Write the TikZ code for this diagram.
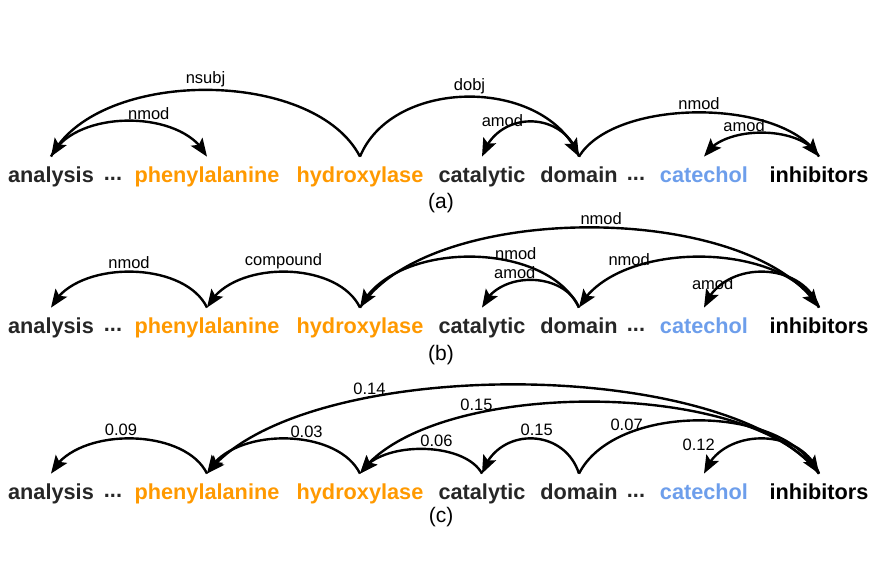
\documentclass[tikz,border=0pt]{standalone}
\usepackage{fontspec}
\setmainfont{Liberation Sans}
\usetikzlibrary{arrows.meta,bending}
\definecolor{wordGray}{RGB}{38,38,38}
\definecolor{wordOrange}{RGB}{255,153,0}
\definecolor{wordBlue}{RGB}{109,158,235}

\tikzset{
  word/.style={anchor=base, font=\bfseries\fontsize{10.85}{13}\selectfont,
    text height=9pt, text depth=2.5pt, inner xsep=0pt, inner ysep=3.5pt},
  dep/.style={line width=1.2pt, -{Stealth[length=9pt,width=7pt,inset=1.8pt]}},
  lbl/.style={font=\fontsize{8.25}{10}\selectfont, anchor=south, inner sep=0.8pt},
  panelcap/.style={font=\fontsize{10.5}{12}\selectfont}
}

\begin{document}
\begin{tikzpicture}[x=0.5pt, y=-0.5pt]
  \useasboundingbox (0,0) rectangle (880,563);

  % the same sentence in every panel
  \foreach \p/\yb in {a/182, b/333, c/499} {
    \node[word, text=wordGray]   (ana-\p)  at (51,\yb)  {analysis};
    \node[word, text=wordGray]   (dl-\p)   at (113,\yb) {\raisebox{1pt}{...}};
    \node[word, text=wordOrange] (phe-\p)  at (207,\yb) {phenylalanine};
    \node[word, text=wordOrange] (hyd-\p)  at (360,\yb) {hydroxylase};
    \node[word, text=wordGray]   (cat-\p)  at (482,\yb) {catalytic};
    \node[word, text=wordGray]   (dom-\p)  at (579,\yb) {domain};
    \node[word, text=wordGray]   (dr-\p)   at (636,\yb) {\raisebox{1pt}{...}};
    \node[word, text=wordBlue]   (cate-\p) at (704,\yb) {catechol};
    \node[word, text=black]      (inh-\p)  at (819,\yb) {inhibitors};
  }

  \node[panelcap] (cap-a) at (441,203) {(a)};
  \node[panelcap] (cap-b) at (441,355) {(b)};
  \node[panelcap] (cap-c) at (441,517) {(c)};

  % (a) dependency parse
  \draw[dep] (hyd-a.north) .. controls +(-46,-89) and +(46,-89) .. (ana-a.north) node[lbl, pos=0.5] {nsubj};
  \draw[dep] (ana-a.north) .. controls +(23,-48) and +(-23,-48) .. (phe-a.north) node[lbl, pos=0.6] {nmod};
  \draw[dep] (hyd-a.north) .. controls +(33,-80) and +(-33,-80) .. (dom-a.north) node[lbl, pos=0.5] {dobj};
  \draw[dep] (dom-a.north) .. controls +(-15,-47) and +(15,-47) .. (cat-a.north) node[lbl, pos=0.74] {amod};
  \draw[dep] (dom-a.north) .. controls +(36,-59) and +(-36,-59) .. (inh-a.north) node[lbl, pos=0.5] {nmod};
  \draw[dep] (inh-a.north) .. controls +(-17,-32) and +(17,-32) .. (cate-a.north) node[lbl, pos=0.62] {amod};

  % (b) rerooted tree
  \draw[dep] (phe-b.north) .. controls +(-23,-48) and +(23,-48) .. (ana-b.north) node[lbl, pos=0.5] {nmod};
  \draw[dep] (hyd-b.north) .. controls +(-23,-48) and +(23,-48) .. (phe-b.north) node[lbl, pos=0.5] {compound};
  \draw[dep] (hyd-b.north) .. controls +(69,-107) and +(-69,-107) .. (inh-b.north) node[lbl, pos=0.52] {nmod};
  \draw[dep] (dom-b.north) .. controls +(-33,-68) and +(33,-68) .. (hyd-b.north) node[lbl, pos=0.33] {nmod};
  \draw[dep] (dom-b.north) .. controls +(-15,-37) and +(15,-37) .. (cat-b.north) node[lbl, pos=0.63] {amod};
  \draw[dep] (inh-b.north) .. controls +(-36,-68) and +(36,-68) .. (dom-b.north) node[lbl, pos=0.74] {nmod};
  \draw[dep] (inh-b.north) .. controls +(-17,-48) and +(17,-48) .. (cate-b.north) node[lbl, pos=0.88] {amod};

  % (c) weighted arcs
  \draw[dep] (phe-c.north) .. controls +(-23,-47) and +(23,-47) .. (ana-c.north) node[lbl, pos=0.54] {0.09};
  \draw[dep] (hyd-c.north) .. controls +(-23,-47) and +(23,-47) .. (phe-c.north) node[lbl, pos=0.38] {0.03};
  \draw[dep] (inh-c.north) .. controls +(-92,-119) and +(92,-119) .. (phe-c.north) node[lbl, pos=0.69] {0.14};
  \draw[dep] (inh-c.north) .. controls +(-69,-96) and +(69,-96) .. (hyd-c.north) node[lbl, pos=0.7] {0.15};
  \draw[dep] (cat-c.north) .. controls +(-18,-33) and +(18,-33) .. (hyd-c.north) node[lbl, pos=0.4] {0.06};
  \draw[dep] (dom-c.north) .. controls +(-15,-47) and +(15,-47) .. (cat-c.north) node[lbl, pos=0.45] {0.15};
  \draw[dep] (dom-c.north) .. controls +(36,-71) and +(-36,-71) .. (inh-c.north) node[lbl, pos=0.25] {0.07};
  \draw[dep] (inh-c.north) .. controls +(-17,-47) and +(17,-47) .. (cate-c.north) node[lbl, pos=0.83, anchor=south east] {0.12};
\end{tikzpicture}
\end{document}
